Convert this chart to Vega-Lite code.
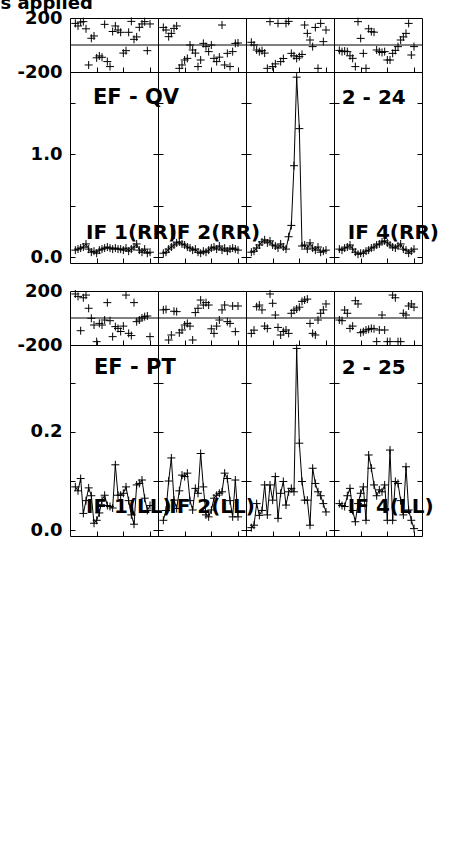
{
"$schema":"https://vega.github.io/schema/vega-lite/v6.json",
"background":"white",
"padding":{"left":0,"top":-6,"right":0,"bottom":0},
"title":{"text":"s applied","anchor":"start","dx":-16,"font":"DejaVu Sans","fontWeight":"bold","fontSize":18,"color":"black","offset":-4,"frame":"bounds"},
"config":{"view":{"stroke":"black","strokeWidth":1},"axis":{"labelFont":"DejaVu Sans","labelFontWeight":"bold","labelFontSize":18,"labelColor":"black","tickColor":"black","tickWidth":1,"labelPadding":13,"labelFlush":false,"labelOverlap":false,"labelBound":false}},
"datasets":{"d":[
{"bl":"EF - QV","ifn":1,"ch":2,"amp":0.07,"ph":160},{"bl":"EF - QV","ifn":1,"ch":3,"amp":0.08,"ph":141},{"bl":"EF - QV","ifn":1,"ch":4,"amp":0.09,"ph":170},{"bl":"EF - QV","ifn":1,"ch":5,"amp":0.10,"ph":173},{"bl":"EF - QV","ifn":1,"ch":6,"amp":0.13,"ph":120},{"bl":"EF - QV","ifn":1,"ch":7,"amp":0.08,"ph":-148},{"bl":"EF - QV","ifn":1,"ch":8,"amp":0.05,"ph":50},{"bl":"EF - QV","ifn":1,"ch":9,"amp":0.06,"ph":67},{"bl":"EF - QV","ifn":1,"ch":10,"amp":0.04,"ph":-95},{"bl":"EF - QV","ifn":1,"ch":11,"amp":0.07,"ph":-81},{"bl":"EF - QV","ifn":1,"ch":12,"amp":0.08,"ph":-91},{"bl":"EF - QV","ifn":1,"ch":13,"amp":0.09,"ph":153},{"bl":"EF - QV","ifn":1,"ch":14,"amp":0.10,"ph":-123},{"bl":"EF - QV","ifn":1,"ch":15,"amp":0.09,"ph":-160},{"bl":"EF - QV","ifn":1,"ch":16,"amp":0.08,"ph":100},{"bl":"EF - QV","ifn":1,"ch":17,"amp":0.09,"ph":141},{"bl":"EF - QV","ifn":1,"ch":18,"amp":0.08,"ph":111},{"bl":"EF - QV","ifn":1,"ch":19,"amp":0.08,"ph":94},{"bl":"EF - QV","ifn":1,"ch":20,"amp":0.07,"ph":-60},{"bl":"EF - QV","ifn":1,"ch":21,"amp":0.09,"ph":-42},{"bl":"EF - QV","ifn":1,"ch":22,"amp":0.06,"ph":94},{"bl":"EF - QV","ifn":1,"ch":23,"amp":0.08,"ph":175},{"bl":"EF - QV","ifn":1,"ch":24,"amp":0.10,"ph":42},{"bl":"EF - QV","ifn":1,"ch":25,"amp":0.13,"ph":60},{"bl":"EF - QV","ifn":1,"ch":26,"amp":0.07,"ph":131},{"bl":"EF - QV","ifn":1,"ch":27,"amp":0.05,"ph":156},{"bl":"EF - QV","ifn":1,"ch":28,"amp":0.08,"ph":173},{"bl":"EF - QV","ifn":1,"ch":29,"amp":0.04,"ph":-42},{"bl":"EF - QV","ifn":1,"ch":30,"amp":0.05,"ph":156},
{"bl":"EF - QV","ifn":2,"ch":2,"amp":0.04,"ph":130},{"bl":"EF - QV","ifn":2,"ch":3,"amp":0.05,"ph":111},{"bl":"EF - QV","ifn":2,"ch":4,"amp":0.08,"ph":62},{"bl":"EF - QV","ifn":2,"ch":5,"amp":0.10,"ph":86},{"bl":"EF - QV","ifn":2,"ch":6,"amp":0.12,"ph":123},{"bl":"EF - QV","ifn":2,"ch":7,"amp":0.14,"ph":141},{"bl":"EF - QV","ifn":2,"ch":8,"amp":0.15,"ph":-173},{"bl":"EF - QV","ifn":2,"ch":9,"amp":0.13,"ph":-148},{"bl":"EF - QV","ifn":2,"ch":10,"amp":0.12,"ph":-111},{"bl":"EF - QV","ifn":2,"ch":11,"amp":0.10,"ph":-99},{"bl":"EF - QV","ifn":2,"ch":12,"amp":0.09,"ph":0},{"bl":"EF - QV","ifn":2,"ch":13,"amp":0.07,"ph":-37},{"bl":"EF - QV","ifn":2,"ch":14,"amp":0.08,"ph":-60},{"bl":"EF - QV","ifn":2,"ch":15,"amp":0.05,"ph":-160},{"bl":"EF - QV","ifn":2,"ch":16,"amp":0.04,"ph":-111},{"bl":"EF - QV","ifn":2,"ch":17,"amp":0.06,"ph":12},{"bl":"EF - QV","ifn":2,"ch":18,"amp":0.05,"ph":-12},{"bl":"EF - QV","ifn":2,"ch":19,"amp":0.07,"ph":-49},{"bl":"EF - QV","ifn":2,"ch":20,"amp":0.09,"ph":0},{"bl":"EF - QV","ifn":2,"ch":21,"amp":0.10,"ph":-99},{"bl":"EF - QV","ifn":2,"ch":22,"amp":0.08,"ph":-123},{"bl":"EF - QV","ifn":2,"ch":23,"amp":0.11,"ph":-90},{"bl":"EF - QV","ifn":2,"ch":24,"amp":0.07,"ph":148},{"bl":"EF - QV","ifn":2,"ch":25,"amp":0.09,"ph":-148},{"bl":"EF - QV","ifn":2,"ch":26,"amp":0.06,"ph":-62},{"bl":"EF - QV","ifn":2,"ch":27,"amp":0.08,"ph":-160},{"bl":"EF - QV","ifn":2,"ch":28,"amp":0.09,"ph":-49},{"bl":"EF - QV","ifn":2,"ch":29,"amp":0.08,"ph":12},{"bl":"EF - QV","ifn":2,"ch":30,"amp":0.07,"ph":15},
{"bl":"EF - QV","ifn":3,"ch":2,"amp":0.05,"ph":20},{"bl":"EF - QV","ifn":3,"ch":3,"amp":0.06,"ph":0},{"bl":"EF - QV","ifn":3,"ch":4,"amp":0.09,"ph":-37},{"bl":"EF - QV","ifn":3,"ch":5,"amp":0.12,"ph":-49},{"bl":"EF - QV","ifn":3,"ch":6,"amp":0.15,"ph":-42},{"bl":"EF - QV","ifn":3,"ch":7,"amp":0.17,"ph":-60},{"bl":"EF - QV","ifn":3,"ch":8,"amp":0.14,"ph":-173},{"bl":"EF - QV","ifn":3,"ch":9,"amp":0.16,"ph":173},{"bl":"EF - QV","ifn":3,"ch":10,"amp":0.12,"ph":-160},{"bl":"EF - QV","ifn":3,"ch":11,"amp":0.11,"ph":-140},{"bl":"EF - QV","ifn":3,"ch":12,"amp":0.09,"ph":160},{"bl":"EF - QV","ifn":3,"ch":13,"amp":0.13,"ph":-123},{"bl":"EF - QV","ifn":3,"ch":14,"amp":0.10,"ph":-100},{"bl":"EF - QV","ifn":3,"ch":15,"amp":0.08,"ph":160},{"bl":"EF - QV","ifn":3,"ch":16,"amp":0.20,"ph":175},{"bl":"EF - QV","ifn":3,"ch":17,"amp":0.31,"ph":-62},{"bl":"EF - QV","ifn":3,"ch":18,"amp":0.89,"ph":-80},{"bl":"EF - QV","ifn":3,"ch":19,"amp":1.75,"ph":-99},{"bl":"EF - QV","ifn":3,"ch":20,"amp":1.25,"ph":-86},{"bl":"EF - QV","ifn":3,"ch":21,"amp":0.11,"ph":-70},{"bl":"EF - QV","ifn":3,"ch":22,"amp":0.12,"ph":148},{"bl":"EF - QV","ifn":3,"ch":23,"amp":0.08,"ph":86},{"bl":"EF - QV","ifn":3,"ch":24,"amp":0.14,"ph":37},{"bl":"EF - QV","ifn":3,"ch":25,"amp":0.09,"ph":-12},{"bl":"EF - QV","ifn":3,"ch":26,"amp":0.07,"ph":130},{"bl":"EF - QV","ifn":3,"ch":27,"amp":0.10,"ph":-173},{"bl":"EF - QV","ifn":3,"ch":28,"amp":0.05,"ph":160},{"bl":"EF - QV","ifn":3,"ch":29,"amp":0.06,"ph":25},{"bl":"EF - QV","ifn":3,"ch":30,"amp":0.07,"ph":111},
{"bl":"EF - QV","ifn":4,"ch":2,"amp":0.08,"ph":-40},{"bl":"EF - QV","ifn":4,"ch":3,"amp":0.07,"ph":-49},{"bl":"EF - QV","ifn":4,"ch":4,"amp":0.09,"ph":-45},{"bl":"EF - QV","ifn":4,"ch":5,"amp":0.10,"ph":-49},{"bl":"EF - QV","ifn":4,"ch":6,"amp":0.12,"ph":-80},{"bl":"EF - QV","ifn":4,"ch":7,"amp":0.08,"ph":-99},{"bl":"EF - QV","ifn":4,"ch":8,"amp":0.05,"ph":-160},{"bl":"EF - QV","ifn":4,"ch":9,"amp":0.03,"ph":173},{"bl":"EF - QV","ifn":4,"ch":10,"amp":0.04,"ph":49},{"bl":"EF - QV","ifn":4,"ch":11,"amp":0.04,"ph":-62},{"bl":"EF - QV","ifn":4,"ch":12,"amp":0.06,"ph":-173},{"bl":"EF - QV","ifn":4,"ch":13,"amp":0.07,"ph":120},{"bl":"EF - QV","ifn":4,"ch":14,"amp":0.09,"ph":99},{"bl":"EF - QV","ifn":4,"ch":15,"amp":0.10,"ph":95},{"bl":"EF - QV","ifn":4,"ch":16,"amp":0.12,"ph":-37},{"bl":"EF - QV","ifn":4,"ch":17,"amp":0.13,"ph":-49},{"bl":"EF - QV","ifn":4,"ch":18,"amp":0.15,"ph":-55},{"bl":"EF - QV","ifn":4,"ch":19,"amp":0.16,"ph":-49},{"bl":"EF - QV","ifn":4,"ch":20,"amp":0.14,"ph":-111},{"bl":"EF - QV","ifn":4,"ch":21,"amp":0.12,"ph":-111},{"bl":"EF - QV","ifn":4,"ch":22,"amp":0.10,"ph":-62},{"bl":"EF - QV","ifn":4,"ch":23,"amp":0.09,"ph":-40},{"bl":"EF - QV","ifn":4,"ch":24,"amp":0.11,"ph":-12},{"bl":"EF - QV","ifn":4,"ch":25,"amp":0.13,"ph":37},{"bl":"EF - QV","ifn":4,"ch":26,"amp":0.08,"ph":60},{"bl":"EF - QV","ifn":4,"ch":27,"amp":0.07,"ph":86},{"bl":"EF - QV","ifn":4,"ch":28,"amp":0.04,"ph":160},{"bl":"EF - QV","ifn":4,"ch":29,"amp":0.06,"ph":-74},{"bl":"EF - QV","ifn":4,"ch":30,"amp":0.08,"ph":-12},
{"bl":"EF - PT","ifn":1,"ch":2,"amp":0.088,"ph":178},{"bl":"EF - PT","ifn":1,"ch":3,"amp":0.080,"ph":160},{"bl":"EF - PT","ifn":1,"ch":4,"amp":0.105,"ph":-94},{"bl":"EF - PT","ifn":1,"ch":5,"amp":0.034,"ph":150},{"bl":"EF - PT","ifn":1,"ch":6,"amp":0.060,"ph":170},{"bl":"EF - PT","ifn":1,"ch":7,"amp":0.086,"ph":72},{"bl":"EF - PT","ifn":1,"ch":8,"amp":0.070,"ph":-2},{"bl":"EF - PT","ifn":1,"ch":9,"amp":0.014,"ph":-52},{"bl":"EF - PT","ifn":1,"ch":10,"amp":0.020,"ph":-175},{"bl":"EF - PT","ifn":1,"ch":11,"amp":0.035,"ph":-40},{"bl":"EF - PT","ifn":1,"ch":12,"amp":0.061,"ph":-52},{"bl":"EF - PT","ifn":1,"ch":13,"amp":0.071,"ph":-15},{"bl":"EF - PT","ifn":1,"ch":14,"amp":0.050,"ph":114},{"bl":"EF - PT","ifn":1,"ch":15,"amp":0.048,"ph":-20},{"bl":"EF - PT","ifn":1,"ch":16,"amp":0.045,"ph":-138},{"bl":"EF - PT","ifn":1,"ch":17,"amp":0.133,"ph":-64},{"bl":"EF - PT","ifn":1,"ch":18,"amp":0.071,"ph":-77},{"bl":"EF - PT","ifn":1,"ch":19,"amp":0.071,"ph":-100},{"bl":"EF - PT","ifn":1,"ch":20,"amp":0.075,"ph":-60},{"bl":"EF - PT","ifn":1,"ch":21,"amp":0.088,"ph":170},{"bl":"EF - PT","ifn":1,"ch":22,"amp":0.060,"ph":-114},{"bl":"EF - PT","ifn":1,"ch":23,"amp":0.031,"ph":-130},{"bl":"EF - PT","ifn":1,"ch":24,"amp":0.012,"ph":114},{"bl":"EF - PT","ifn":1,"ch":25,"amp":0.092,"ph":-27},{"bl":"EF - PT","ifn":1,"ch":26,"amp":0.095,"ph":-15},{"bl":"EF - PT","ifn":1,"ch":27,"amp":0.102,"ph":0},{"bl":"EF - PT","ifn":1,"ch":28,"amp":0.065,"ph":10},{"bl":"EF - PT","ifn":1,"ch":29,"amp":0.040,"ph":15},{"bl":"EF - PT","ifn":1,"ch":30,"amp":0.050,"ph":-138},
{"bl":"EF - PT","ifn":2,"ch":2,"amp":0.020,"ph":60},{"bl":"EF - PT","ifn":2,"ch":3,"amp":0.040,"ph":64},{"bl":"EF - PT","ifn":2,"ch":4,"amp":0.100,"ph":-163},{"bl":"EF - PT","ifn":2,"ch":5,"amp":0.147,"ph":-126},{"bl":"EF - PT","ifn":2,"ch":6,"amp":0.061,"ph":50},{"bl":"EF - PT","ifn":2,"ch":7,"amp":0.044,"ph":47},{"bl":"EF - PT","ifn":2,"ch":8,"amp":0.080,"ph":-110},{"bl":"EF - PT","ifn":2,"ch":9,"amp":0.112,"ph":-89},{"bl":"EF - PT","ifn":2,"ch":10,"amp":0.109,"ph":-52},{"bl":"EF - PT","ifn":2,"ch":11,"amp":0.116,"ph":-40},{"bl":"EF - PT","ifn":2,"ch":12,"amp":0.060,"ph":-60},{"bl":"EF - PT","ifn":2,"ch":13,"amp":0.041,"ph":-163},{"bl":"EF - PT","ifn":2,"ch":14,"amp":0.085,"ph":40},{"bl":"EF - PT","ifn":2,"ch":15,"amp":0.075,"ph":72},{"bl":"EF - PT","ifn":2,"ch":16,"amp":0.156,"ph":133},{"bl":"EF - PT","ifn":2,"ch":17,"amp":0.088,"ph":96},{"bl":"EF - PT","ifn":2,"ch":18,"amp":0.031,"ph":114},{"bl":"EF - PT","ifn":2,"ch":19,"amp":0.027,"ph":96},{"bl":"EF - PT","ifn":2,"ch":20,"amp":0.041,"ph":-80},{"bl":"EF - PT","ifn":2,"ch":21,"amp":0.065,"ph":-114},{"bl":"EF - PT","ifn":2,"ch":22,"amp":0.071,"ph":-60},{"bl":"EF - PT","ifn":2,"ch":23,"amp":0.075,"ph":-15},{"bl":"EF - PT","ifn":2,"ch":24,"amp":0.078,"ph":60},{"bl":"EF - PT","ifn":2,"ch":25,"amp":0.116,"ph":96},{"bl":"EF - PT","ifn":2,"ch":26,"amp":0.105,"ph":-27},{"bl":"EF - PT","ifn":2,"ch":27,"amp":0.060,"ph":-40},{"bl":"EF - PT","ifn":2,"ch":28,"amp":0.027,"ph":89},{"bl":"EF - PT","ifn":2,"ch":29,"amp":0.102,"ph":-101},{"bl":"EF - PT","ifn":2,"ch":30,"amp":0.027,"ph":89},
{"bl":"EF - PT","ifn":3,"ch":2,"amp":0.005,"ph":-114},{"bl":"EF - PT","ifn":3,"ch":3,"amp":0.010,"ph":-90},{"bl":"EF - PT","ifn":3,"ch":4,"amp":0.054,"ph":84},{"bl":"EF - PT","ifn":3,"ch":5,"amp":0.030,"ph":96},{"bl":"EF - PT","ifn":3,"ch":6,"amp":0.040,"ph":60},{"bl":"EF - PT","ifn":3,"ch":7,"amp":0.092,"ph":-60},{"bl":"EF - PT","ifn":3,"ch":8,"amp":0.031,"ph":-77},{"bl":"EF - PT","ifn":3,"ch":9,"amp":0.092,"ph":178},{"bl":"EF - PT","ifn":3,"ch":10,"amp":0.061,"ph":109},{"bl":"EF - PT","ifn":3,"ch":11,"amp":0.109,"ph":22},{"bl":"EF - PT","ifn":3,"ch":12,"amp":0.024,"ph":-70},{"bl":"EF - PT","ifn":3,"ch":13,"amp":0.075,"ph":-126},{"bl":"EF - PT","ifn":3,"ch":14,"amp":0.099,"ph":-100},{"bl":"EF - PT","ifn":3,"ch":15,"amp":0.051,"ph":-89},{"bl":"EF - PT","ifn":3,"ch":16,"amp":0.078,"ph":-114},{"bl":"EF - PT","ifn":3,"ch":17,"amp":0.085,"ph":35},{"bl":"EF - PT","ifn":3,"ch":18,"amp":0.078,"ph":57},{"bl":"EF - PT","ifn":3,"ch":19,"amp":0.370,"ph":67},{"bl":"EF - PT","ifn":3,"ch":20,"amp":0.177,"ph":80},{"bl":"EF - PT","ifn":3,"ch":21,"amp":0.099,"ph":123},{"bl":"EF - PT","ifn":3,"ch":22,"amp":0.061,"ph":133},{"bl":"EF - PT","ifn":3,"ch":23,"amp":0.061,"ph":140},{"bl":"EF - PT","ifn":3,"ch":24,"amp":0.010,"ph":-40},{"bl":"EF - PT","ifn":3,"ch":25,"amp":0.126,"ph":-114},{"bl":"EF - PT","ifn":3,"ch":26,"amp":0.095,"ph":-126},{"bl":"EF - PT","ifn":3,"ch":27,"amp":0.078,"ph":-15},{"bl":"EF - PT","ifn":3,"ch":28,"amp":0.070,"ph":35},{"bl":"EF - PT","ifn":3,"ch":29,"amp":0.054,"ph":60},{"bl":"EF - PT","ifn":3,"ch":30,"amp":0.037,"ph":104},
{"bl":"EF - PT","ifn":4,"ch":2,"amp":0.054,"ph":-15},{"bl":"EF - PT","ifn":4,"ch":3,"amp":0.050,"ph":-20},{"bl":"EF - PT","ifn":4,"ch":4,"amp":0.048,"ph":59},{"bl":"EF - PT","ifn":4,"ch":5,"amp":0.070,"ph":35},{"bl":"EF - PT","ifn":4,"ch":6,"amp":0.085,"ph":-77},{"bl":"EF - PT","ifn":4,"ch":7,"amp":0.040,"ph":-60},{"bl":"EF - PT","ifn":4,"ch":8,"amp":0.017,"ph":128},{"bl":"EF - PT","ifn":4,"ch":9,"amp":0.054,"ph":104},{"bl":"EF - PT","ifn":4,"ch":10,"amp":0.075,"ph":-109},{"bl":"EF - PT","ifn":4,"ch":11,"amp":0.088,"ph":-101},{"bl":"EF - PT","ifn":4,"ch":12,"amp":0.020,"ph":-89},{"bl":"EF - PT","ifn":4,"ch":13,"amp":0.153,"ph":-84},{"bl":"EF - PT","ifn":4,"ch":14,"amp":0.126,"ph":-77},{"bl":"EF - PT","ifn":4,"ch":15,"amp":0.092,"ph":-80},{"bl":"EF - PT","ifn":4,"ch":16,"amp":0.070,"ph":-175},{"bl":"EF - PT","ifn":4,"ch":17,"amp":0.082,"ph":-89},{"bl":"EF - PT","ifn":4,"ch":18,"amp":0.078,"ph":22},{"bl":"EF - PT","ifn":4,"ch":19,"amp":0.092,"ph":-89},{"bl":"EF - PT","ifn":4,"ch":20,"amp":0.020,"ph":-175},{"bl":"EF - PT","ifn":4,"ch":21,"amp":0.163,"ph":-175},{"bl":"EF - PT","ifn":4,"ch":22,"amp":0.020,"ph":170},{"bl":"EF - PT","ifn":4,"ch":23,"amp":0.099,"ph":150},{"bl":"EF - PT","ifn":4,"ch":24,"amp":0.095,"ph":-175},{"bl":"EF - PT","ifn":4,"ch":25,"amp":0.060,"ph":-175},{"bl":"EF - PT","ifn":4,"ch":26,"amp":0.031,"ph":35},{"bl":"EF - PT","ifn":4,"ch":27,"amp":0.129,"ph":22},{"bl":"EF - PT","ifn":4,"ch":28,"amp":0.041,"ph":89},{"bl":"EF - PT","ifn":4,"ch":29,"amp":0.020,"ph":104},{"bl":"EF - PT","ifn":4,"ch":30,"amp":0.003,"ph":80}
]},
"data":{"name":"d"},
"columns":4,
"spacing":0,
"bounds":"flush",
"resolve":{"scale":{"x":"independent","y":"independent"}},
"concat":[
  {"width":88,"height":54,"layer":[
   {"transform":[{"filter":"datum.bl == 'EF - QV' && datum.ifn == 1"}],"mark":{"type":"point","shape":"M-1,0H1M0,-1V1","size":64,"filled":false,"color":"black","strokeWidth":1,"opacity":1},"encoding":{"x":{"field":"ch","type":"quantitative","scale":{"domain":[0,33],"nice":false,"zero":false},"axis":{"orient":"bottom","values":[10,20,30],"labels":false,"tickSize":-5,"title":null,"domain":false,"grid":false}},"y":{"field":"ph","type":"quantitative","scale":{"domain":[-200,200],"nice":false,"zero":false},"axis":{"values":[-200,200],"labelExpr":"datum.value > 0 ? '200' : '-200'","labelPadding":8,"ticks":false,"title":null,"domain":false,"grid":false}}}},
   {"data":{"values":[{}]},"mark":{"type":"rule","color":"black","strokeWidth":1},"encoding":{"y":{"datum":0,"type":"quantitative","axis":{"values":[-200,200],"labelExpr":"datum.value > 0 ? '200' : '-200'","labelPadding":8,"ticks":false,"title":null,"domain":false,"grid":false}}}}
  ]},
  {"width":88,"height":54,"layer":[
   {"transform":[{"filter":"datum.bl == 'EF - QV' && datum.ifn == 2"}],"mark":{"type":"point","shape":"M-1,0H1M0,-1V1","size":64,"filled":false,"color":"black","strokeWidth":1,"opacity":1},"encoding":{"x":{"field":"ch","type":"quantitative","scale":{"domain":[0,33],"nice":false,"zero":false},"axis":{"orient":"bottom","values":[10,20,30],"labels":false,"tickSize":-5,"title":null,"domain":false,"grid":false}},"y":{"field":"ph","type":"quantitative","scale":{"domain":[-200,200],"nice":false,"zero":false},"axis":null}}},
   {"data":{"values":[{}]},"mark":{"type":"rule","color":"black","strokeWidth":1},"encoding":{"y":{"datum":0,"type":"quantitative","axis":null}}}
  ]},
  {"width":88,"height":54,"layer":[
   {"transform":[{"filter":"datum.bl == 'EF - QV' && datum.ifn == 3"}],"mark":{"type":"point","shape":"M-1,0H1M0,-1V1","size":64,"filled":false,"color":"black","strokeWidth":1,"opacity":1},"encoding":{"x":{"field":"ch","type":"quantitative","scale":{"domain":[0,33],"nice":false,"zero":false},"axis":{"orient":"bottom","values":[10,20,30],"labels":false,"tickSize":-5,"title":null,"domain":false,"grid":false}},"y":{"field":"ph","type":"quantitative","scale":{"domain":[-200,200],"nice":false,"zero":false},"axis":null}}},
   {"data":{"values":[{}]},"mark":{"type":"rule","color":"black","strokeWidth":1},"encoding":{"y":{"datum":0,"type":"quantitative","axis":null}}}
  ]},
  {"width":88,"height":54,"layer":[
   {"transform":[{"filter":"datum.bl == 'EF - QV' && datum.ifn == 4"}],"mark":{"type":"point","shape":"M-1,0H1M0,-1V1","size":64,"filled":false,"color":"black","strokeWidth":1,"opacity":1},"encoding":{"x":{"field":"ch","type":"quantitative","scale":{"domain":[0,33],"nice":false,"zero":false},"axis":{"orient":"bottom","values":[10,20,30],"labels":false,"tickSize":-5,"title":null,"domain":false,"grid":false}},"y":{"field":"ph","type":"quantitative","scale":{"domain":[-200,200],"nice":false,"zero":false},"axis":null}}},
   {"data":{"values":[{}]},"mark":{"type":"rule","color":"black","strokeWidth":1},"encoding":{"y":{"datum":0,"type":"quantitative","axis":null}}}
  ]},
  {"width":88,"height":191,"resolve":{"axis":{"y":"independent"}},"layer":[
   {"transform":[{"filter":"datum.bl == 'EF - QV' && datum.ifn == 1"}],"mark":{"type":"line","color":"black","strokeWidth":1},"encoding":{"x":{"field":"ch","type":"quantitative","scale":{"domain":[0,33],"nice":false,"zero":false},"axis":{"orient":"bottom","values":[10,20,30],"labels":false,"tickSize":-5,"title":null,"domain":false,"grid":false}},"y":{"field":"amp","type":"quantitative","scale":{"domain":[-0.055,1.8],"nice":false,"zero":false},"axis":{"orient":"left","values":[0,0.5,1,1.5],"labelExpr":"datum.value == 0 || datum.value == 1 ? format(datum.value, '.1f') : ''","tickSize":-5,"title":null,"domain":false,"grid":false}}}},
   {"transform":[{"filter":"datum.bl == 'EF - QV' && datum.ifn == 1"}],"mark":{"type":"point","shape":"M-1,0H1M0,-1V1","size":64,"filled":false,"color":"black","strokeWidth":1,"opacity":1},"encoding":{"x":{"field":"ch","type":"quantitative","axis":{"orient":"bottom","values":[10,20,30],"labels":false,"tickSize":-5,"title":null,"domain":false,"grid":false}},"y":{"field":"amp","type":"quantitative","axis":{"orient":"right","values":[0,0.5,1,1.5],"labels":false,"tickSize":-5,"title":null,"domain":false,"grid":false}}}},
   {"data":{"values":[{}]},"mark":{"type":"text","text":"EF - QV","align":"left","baseline":"middle","font":"DejaVu Sans","fontWeight":"bold","fontSize":21,"color":"black"},"encoding":{"x":{"datum":8.6,"type":"quantitative","axis":{"orient":"bottom","values":[10,20,30],"labels":false,"tickSize":-5,"title":null,"domain":false,"grid":false}},"y":{"datum":1.55,"type":"quantitative","axis":null}}},
   {"data":{"values":[{}]},"mark":{"type":"text","text":"IF 1(RR)","align":"left","baseline":"middle","font":"DejaVu Sans","fontWeight":"bold","fontSize":20,"color":"black"},"encoding":{"x":{"datum":6,"type":"quantitative","axis":{"orient":"bottom","values":[10,20,30],"labels":false,"tickSize":-5,"title":null,"domain":false,"grid":false}},"y":{"datum":0.24,"type":"quantitative","axis":null}}}
  ]},
  {"width":88,"height":191,"resolve":{"axis":{"y":"independent"}},"layer":[
   {"transform":[{"filter":"datum.bl == 'EF - QV' && datum.ifn == 2"}],"mark":{"type":"line","color":"black","strokeWidth":1},"encoding":{"x":{"field":"ch","type":"quantitative","scale":{"domain":[0,33],"nice":false,"zero":false},"axis":{"orient":"bottom","values":[10,20,30],"labels":false,"tickSize":-5,"title":null,"domain":false,"grid":false}},"y":{"field":"amp","type":"quantitative","scale":{"domain":[-0.055,1.8],"nice":false,"zero":false},"axis":{"orient":"left","values":[0,0.5,1,1.5],"labels":false,"tickSize":-5,"title":null,"domain":false,"grid":false}}}},
   {"transform":[{"filter":"datum.bl == 'EF - QV' && datum.ifn == 2"}],"mark":{"type":"point","shape":"M-1,0H1M0,-1V1","size":64,"filled":false,"color":"black","strokeWidth":1,"opacity":1},"encoding":{"x":{"field":"ch","type":"quantitative","axis":{"orient":"bottom","values":[10,20,30],"labels":false,"tickSize":-5,"title":null,"domain":false,"grid":false}},"y":{"field":"amp","type":"quantitative","axis":{"orient":"right","values":[0,0.5,1,1.5],"labels":false,"tickSize":-5,"title":null,"domain":false,"grid":false}}}},
   {"data":{"values":[{}]},"mark":{"type":"text","text":"IF 2(RR)","align":"left","baseline":"middle","font":"DejaVu Sans","fontWeight":"bold","fontSize":20,"color":"black"},"encoding":{"x":{"datum":4.2,"type":"quantitative","axis":{"orient":"bottom","values":[10,20,30],"labels":false,"tickSize":-5,"title":null,"domain":false,"grid":false}},"y":{"datum":0.24,"type":"quantitative","axis":null}}}
  ]},
  {"width":88,"height":191,"resolve":{"axis":{"y":"independent"}},"layer":[
   {"transform":[{"filter":"datum.bl == 'EF - QV' && datum.ifn == 3"}],"mark":{"type":"line","color":"black","strokeWidth":1},"encoding":{"x":{"field":"ch","type":"quantitative","scale":{"domain":[0,33],"nice":false,"zero":false},"axis":{"orient":"bottom","values":[10,20,30],"labels":false,"tickSize":-5,"title":null,"domain":false,"grid":false}},"y":{"field":"amp","type":"quantitative","scale":{"domain":[-0.055,1.8],"nice":false,"zero":false},"axis":{"orient":"left","values":[0,0.5,1,1.5],"labels":false,"tickSize":-5,"title":null,"domain":false,"grid":false}}}},
   {"transform":[{"filter":"datum.bl == 'EF - QV' && datum.ifn == 3"}],"mark":{"type":"point","shape":"M-1,0H1M0,-1V1","size":64,"filled":false,"color":"black","strokeWidth":1,"opacity":1},"encoding":{"x":{"field":"ch","type":"quantitative","axis":{"orient":"bottom","values":[10,20,30],"labels":false,"tickSize":-5,"title":null,"domain":false,"grid":false}},"y":{"field":"amp","type":"quantitative","axis":{"orient":"right","values":[0,0.5,1,1.5],"labels":false,"tickSize":-5,"title":null,"domain":false,"grid":false}}}}
  ]},
  {"width":88,"height":191,"resolve":{"axis":{"y":"independent"}},"layer":[
   {"transform":[{"filter":"datum.bl == 'EF - QV' && datum.ifn == 4"}],"mark":{"type":"line","color":"black","strokeWidth":1},"encoding":{"x":{"field":"ch","type":"quantitative","scale":{"domain":[0,33],"nice":false,"zero":false},"axis":{"orient":"bottom","values":[10,20,30],"labels":false,"tickSize":-5,"title":null,"domain":false,"grid":false}},"y":{"field":"amp","type":"quantitative","scale":{"domain":[-0.055,1.8],"nice":false,"zero":false},"axis":{"orient":"left","values":[0,0.5,1,1.5],"labels":false,"tickSize":-5,"title":null,"domain":false,"grid":false}}}},
   {"transform":[{"filter":"datum.bl == 'EF - QV' && datum.ifn == 4"}],"mark":{"type":"point","shape":"M-1,0H1M0,-1V1","size":64,"filled":false,"color":"black","strokeWidth":1,"opacity":1},"encoding":{"x":{"field":"ch","type":"quantitative","axis":{"orient":"bottom","values":[10,20,30],"labels":false,"tickSize":-5,"title":null,"domain":false,"grid":false}},"y":{"field":"amp","type":"quantitative","axis":{"orient":"right","values":[0,0.5,1,1.5],"labels":false,"tickSize":-5,"title":null,"domain":false,"grid":false}}}},
   {"data":{"values":[{}]},"mark":{"type":"text","text":"2 - 24","align":"left","baseline":"middle","font":"DejaVu Sans","fontWeight":"bold","fontSize":20,"color":"black"},"encoding":{"x":{"datum":2.9,"type":"quantitative","axis":{"orient":"bottom","values":[10,20,30],"labels":false,"tickSize":-5,"title":null,"domain":false,"grid":false}},"y":{"datum":1.55,"type":"quantitative","axis":null}}},
   {"data":{"values":[{}]},"mark":{"type":"text","text":"IF 4(RR)","align":"left","baseline":"middle","font":"DejaVu Sans","fontWeight":"bold","fontSize":20,"color":"black"},"encoding":{"x":{"datum":5.2,"type":"quantitative","axis":{"orient":"bottom","values":[10,20,30],"labels":false,"tickSize":-5,"title":null,"domain":false,"grid":false}},"y":{"datum":0.24,"type":"quantitative","axis":null}}}
  ]},
  {"width":88,"height":28,"view":{"stroke":null},"data":{"values":[]},"mark":"point"},
  {"width":88,"height":28,"view":{"stroke":null},"data":{"values":[]},"mark":"point"},
  {"width":88,"height":28,"view":{"stroke":null},"data":{"values":[]},"mark":"point"},
  {"width":88,"height":28,"view":{"stroke":null},"data":{"values":[]},"mark":"point"},
  {"width":88,"height":54,"layer":[
   {"transform":[{"filter":"datum.bl == 'EF - PT' && datum.ifn == 1"}],"mark":{"type":"point","shape":"M-1,0H1M0,-1V1","size":64,"filled":false,"color":"black","strokeWidth":1,"opacity":1},"encoding":{"x":{"field":"ch","type":"quantitative","scale":{"domain":[0,33],"nice":false,"zero":false},"axis":{"orient":"bottom","values":[10,20,30],"labels":false,"tickSize":-5,"title":null,"domain":false,"grid":false}},"y":{"field":"ph","type":"quantitative","scale":{"domain":[-200,200],"nice":false,"zero":false},"axis":{"values":[-200,200],"labelExpr":"datum.value > 0 ? '200' : '-200'","labelPadding":8,"ticks":false,"title":null,"domain":false,"grid":false}}}},
   {"data":{"values":[{}]},"mark":{"type":"rule","color":"black","strokeWidth":1},"encoding":{"y":{"datum":0,"type":"quantitative","axis":{"values":[-200,200],"labelExpr":"datum.value > 0 ? '200' : '-200'","labelPadding":8,"ticks":false,"title":null,"domain":false,"grid":false}}}}
  ]},
  {"width":88,"height":54,"layer":[
   {"transform":[{"filter":"datum.bl == 'EF - PT' && datum.ifn == 2"}],"mark":{"type":"point","shape":"M-1,0H1M0,-1V1","size":64,"filled":false,"color":"black","strokeWidth":1,"opacity":1},"encoding":{"x":{"field":"ch","type":"quantitative","scale":{"domain":[0,33],"nice":false,"zero":false},"axis":{"orient":"bottom","values":[10,20,30],"labels":false,"tickSize":-5,"title":null,"domain":false,"grid":false}},"y":{"field":"ph","type":"quantitative","scale":{"domain":[-200,200],"nice":false,"zero":false},"axis":null}}},
   {"data":{"values":[{}]},"mark":{"type":"rule","color":"black","strokeWidth":1},"encoding":{"y":{"datum":0,"type":"quantitative","axis":null}}}
  ]},
  {"width":88,"height":54,"layer":[
   {"transform":[{"filter":"datum.bl == 'EF - PT' && datum.ifn == 3"}],"mark":{"type":"point","shape":"M-1,0H1M0,-1V1","size":64,"filled":false,"color":"black","strokeWidth":1,"opacity":1},"encoding":{"x":{"field":"ch","type":"quantitative","scale":{"domain":[0,33],"nice":false,"zero":false},"axis":{"orient":"bottom","values":[10,20,30],"labels":false,"tickSize":-5,"title":null,"domain":false,"grid":false}},"y":{"field":"ph","type":"quantitative","scale":{"domain":[-200,200],"nice":false,"zero":false},"axis":null}}},
   {"data":{"values":[{}]},"mark":{"type":"rule","color":"black","strokeWidth":1},"encoding":{"y":{"datum":0,"type":"quantitative","axis":null}}}
  ]},
  {"width":88,"height":54,"layer":[
   {"transform":[{"filter":"datum.bl == 'EF - PT' && datum.ifn == 4"}],"mark":{"type":"point","shape":"M-1,0H1M0,-1V1","size":64,"filled":false,"color":"black","strokeWidth":1,"opacity":1},"encoding":{"x":{"field":"ch","type":"quantitative","scale":{"domain":[0,33],"nice":false,"zero":false},"axis":{"orient":"bottom","values":[10,20,30],"labels":false,"tickSize":-5,"title":null,"domain":false,"grid":false}},"y":{"field":"ph","type":"quantitative","scale":{"domain":[-200,200],"nice":false,"zero":false},"axis":null}}},
   {"data":{"values":[{}]},"mark":{"type":"rule","color":"black","strokeWidth":1},"encoding":{"y":{"datum":0,"type":"quantitative","axis":null}}}
  ]},
  {"width":88,"height":191,"resolve":{"axis":{"y":"independent"}},"layer":[
   {"transform":[{"filter":"datum.bl == 'EF - PT' && datum.ifn == 1"}],"mark":{"type":"line","color":"black","strokeWidth":1},"encoding":{"x":{"field":"ch","type":"quantitative","scale":{"domain":[0,33],"nice":false,"zero":false},"axis":{"orient":"bottom","values":[10,20,30],"labels":false,"tickSize":-5,"title":null,"domain":false,"grid":false}},"y":{"field":"amp","type":"quantitative","scale":{"domain":[-0.012,0.377],"nice":false,"zero":false},"axis":{"orient":"left","values":[0,0.1,0.2,0.3],"labelExpr":"datum.value == 0 || datum.value == 0.2 ? format(datum.value, '.1f') : ''","tickSize":-5,"title":null,"domain":false,"grid":false}}}},
   {"transform":[{"filter":"datum.bl == 'EF - PT' && datum.ifn == 1"}],"mark":{"type":"point","shape":"M-1,0H1M0,-1V1","size":64,"filled":false,"color":"black","strokeWidth":1,"opacity":1},"encoding":{"x":{"field":"ch","type":"quantitative","axis":{"orient":"bottom","values":[10,20,30],"labels":false,"tickSize":-5,"title":null,"domain":false,"grid":false}},"y":{"field":"amp","type":"quantitative","axis":{"orient":"right","values":[0,0.1,0.2,0.3],"labels":false,"tickSize":-5,"title":null,"domain":false,"grid":false}}}},
   {"data":{"values":[{}]},"mark":{"type":"text","text":"EF - PT","align":"left","baseline":"middle","font":"DejaVu Sans","fontWeight":"bold","fontSize":21,"color":"black"},"encoding":{"x":{"datum":9,"type":"quantitative","axis":{"orient":"bottom","values":[10,20,30],"labels":false,"tickSize":-5,"title":null,"domain":false,"grid":false}},"y":{"datum":0.33,"type":"quantitative","axis":null}}},
   {"data":{"values":[{}]},"mark":{"type":"text","text":"IF 1(LL)","align":"left","baseline":"middle","font":"DejaVu Sans","fontWeight":"bold","fontSize":20,"color":"black"},"encoding":{"x":{"datum":6,"type":"quantitative","axis":{"orient":"bottom","values":[10,20,30],"labels":false,"tickSize":-5,"title":null,"domain":false,"grid":false}},"y":{"datum":0.047,"type":"quantitative","axis":null}}}
  ]},
  {"width":88,"height":191,"resolve":{"axis":{"y":"independent"}},"layer":[
   {"transform":[{"filter":"datum.bl == 'EF - PT' && datum.ifn == 2"}],"mark":{"type":"line","color":"black","strokeWidth":1},"encoding":{"x":{"field":"ch","type":"quantitative","scale":{"domain":[0,33],"nice":false,"zero":false},"axis":{"orient":"bottom","values":[10,20,30],"labels":false,"tickSize":-5,"title":null,"domain":false,"grid":false}},"y":{"field":"amp","type":"quantitative","scale":{"domain":[-0.012,0.377],"nice":false,"zero":false},"axis":{"orient":"left","values":[0,0.1,0.2,0.3],"labels":false,"tickSize":-5,"title":null,"domain":false,"grid":false}}}},
   {"transform":[{"filter":"datum.bl == 'EF - PT' && datum.ifn == 2"}],"mark":{"type":"point","shape":"M-1,0H1M0,-1V1","size":64,"filled":false,"color":"black","strokeWidth":1,"opacity":1},"encoding":{"x":{"field":"ch","type":"quantitative","axis":{"orient":"bottom","values":[10,20,30],"labels":false,"tickSize":-5,"title":null,"domain":false,"grid":false}},"y":{"field":"amp","type":"quantitative","axis":{"orient":"right","values":[0,0.1,0.2,0.3],"labels":false,"tickSize":-5,"title":null,"domain":false,"grid":false}}}},
   {"data":{"values":[{}]},"mark":{"type":"text","text":"IF 2(LL)","align":"left","baseline":"middle","font":"DejaVu Sans","fontWeight":"bold","fontSize":20,"color":"black"},"encoding":{"x":{"datum":4.2,"type":"quantitative","axis":{"orient":"bottom","values":[10,20,30],"labels":false,"tickSize":-5,"title":null,"domain":false,"grid":false}},"y":{"datum":0.047,"type":"quantitative","axis":null}}}
  ]},
  {"width":88,"height":191,"resolve":{"axis":{"y":"independent"}},"layer":[
   {"transform":[{"filter":"datum.bl == 'EF - PT' && datum.ifn == 3"}],"mark":{"type":"line","color":"black","strokeWidth":1},"encoding":{"x":{"field":"ch","type":"quantitative","scale":{"domain":[0,33],"nice":false,"zero":false},"axis":{"orient":"bottom","values":[10,20,30],"labels":false,"tickSize":-5,"title":null,"domain":false,"grid":false}},"y":{"field":"amp","type":"quantitative","scale":{"domain":[-0.012,0.377],"nice":false,"zero":false},"axis":{"orient":"left","values":[0,0.1,0.2,0.3],"labels":false,"tickSize":-5,"title":null,"domain":false,"grid":false}}}},
   {"transform":[{"filter":"datum.bl == 'EF - PT' && datum.ifn == 3"}],"mark":{"type":"point","shape":"M-1,0H1M0,-1V1","size":64,"filled":false,"color":"black","strokeWidth":1,"opacity":1},"encoding":{"x":{"field":"ch","type":"quantitative","axis":{"orient":"bottom","values":[10,20,30],"labels":false,"tickSize":-5,"title":null,"domain":false,"grid":false}},"y":{"field":"amp","type":"quantitative","axis":{"orient":"right","values":[0,0.1,0.2,0.3],"labels":false,"tickSize":-5,"title":null,"domain":false,"grid":false}}}}
  ]},
  {"width":88,"height":191,"resolve":{"axis":{"y":"independent"}},"layer":[
   {"transform":[{"filter":"datum.bl == 'EF - PT' && datum.ifn == 4"}],"mark":{"type":"line","color":"black","strokeWidth":1},"encoding":{"x":{"field":"ch","type":"quantitative","scale":{"domain":[0,33],"nice":false,"zero":false},"axis":{"orient":"bottom","values":[10,20,30],"labels":false,"tickSize":-5,"title":null,"domain":false,"grid":false}},"y":{"field":"amp","type":"quantitative","scale":{"domain":[-0.012,0.377],"nice":false,"zero":false},"axis":{"orient":"left","values":[0,0.1,0.2,0.3],"labels":false,"tickSize":-5,"title":null,"domain":false,"grid":false}}}},
   {"transform":[{"filter":"datum.bl == 'EF - PT' && datum.ifn == 4"}],"mark":{"type":"point","shape":"M-1,0H1M0,-1V1","size":64,"filled":false,"color":"black","strokeWidth":1,"opacity":1},"encoding":{"x":{"field":"ch","type":"quantitative","axis":{"orient":"bottom","values":[10,20,30],"labels":false,"tickSize":-5,"title":null,"domain":false,"grid":false}},"y":{"field":"amp","type":"quantitative","axis":{"orient":"right","values":[0,0.1,0.2,0.3],"labels":false,"tickSize":-5,"title":null,"domain":false,"grid":false}}}},
   {"data":{"values":[{}]},"mark":{"type":"text","text":"2 - 25","align":"left","baseline":"middle","font":"DejaVu Sans","fontWeight":"bold","fontSize":20,"color":"black"},"encoding":{"x":{"datum":2.9,"type":"quantitative","axis":{"orient":"bottom","values":[10,20,30],"labels":false,"tickSize":-5,"title":null,"domain":false,"grid":false}},"y":{"datum":0.33,"type":"quantitative","axis":null}}},
   {"data":{"values":[{}]},"mark":{"type":"text","text":"IF 4(LL)","align":"left","baseline":"middle","font":"DejaVu Sans","fontWeight":"bold","fontSize":20,"color":"black"},"encoding":{"x":{"datum":5.2,"type":"quantitative","axis":{"orient":"bottom","values":[10,20,30],"labels":false,"tickSize":-5,"title":null,"domain":false,"grid":false}},"y":{"datum":0.047,"type":"quantitative","axis":null}}}
  ]}
]
}
